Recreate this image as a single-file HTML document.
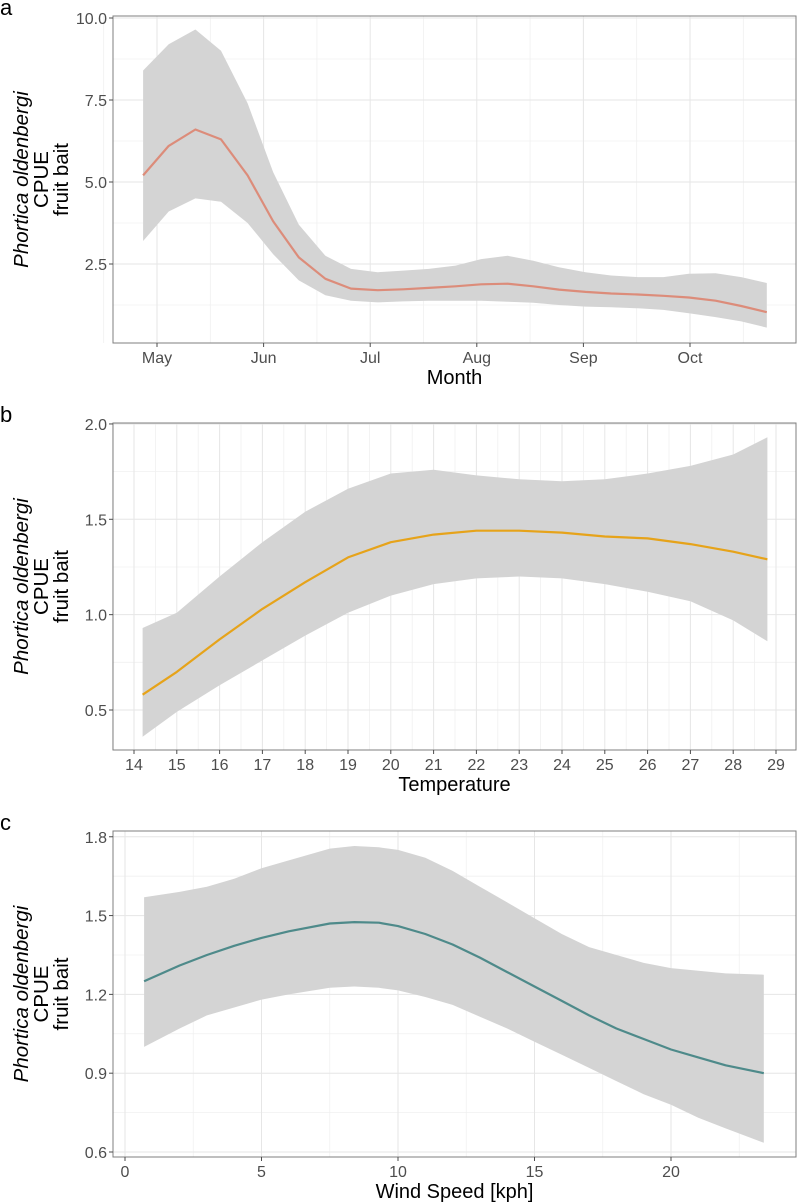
<!DOCTYPE html>
<html><head><meta charset="utf-8"><style>
html,body{margin:0;padding:0;background:#fff;}
svg{display:block;font-family:"Liberation Sans",Arial,sans-serif;}
</style></head><body>
<svg id="chart" width="797" height="1202" viewBox="0 0 797 1202" xmlns="http://www.w3.org/2000/svg"></svg>
<script>
// ---- Panel a: month (0 = May 1, units of months) ----
const aX = [-0.13,0.11,0.36,0.60,0.85,1.09,1.33,1.58,1.82,2.07,2.31,2.55,2.80,3.04,3.29,3.53,3.77,4.02,4.26,4.51,4.75,4.99,5.24,5.48,5.72];
const aFit = [5.2,6.1,6.6,6.3,5.2,3.8,2.7,2.05,1.75,1.7,1.73,1.77,1.82,1.88,1.9,1.82,1.72,1.65,1.6,1.57,1.53,1.48,1.38,1.22,1.03];
const aUpper = [8.4,9.2,9.65,9.0,7.4,5.3,3.7,2.75,2.35,2.25,2.3,2.35,2.45,2.65,2.75,2.6,2.4,2.25,2.15,2.1,2.1,2.2,2.22,2.1,1.92];
const aLower = [3.2,4.1,4.5,4.4,3.75,2.8,2.0,1.55,1.38,1.33,1.36,1.38,1.38,1.38,1.35,1.32,1.25,1.2,1.18,1.15,1.1,1.0,0.88,0.75,0.56];
const aXTicks = ["May","Jun","Jul","Aug","Sep","Oct"];
const aYTicks = [2.5,5.0,7.5,10.0];

// ---- Panel b: temperature ----
const bX = [14.2,15,16,17,18,19,20,21,22,23,24,25,26,27,28,28.8];
const bFit = [0.58,0.70,0.87,1.03,1.17,1.30,1.38,1.42,1.44,1.44,1.43,1.41,1.40,1.37,1.33,1.29];
const bUpper = [0.93,1.01,1.20,1.38,1.54,1.66,1.74,1.76,1.73,1.71,1.70,1.71,1.74,1.78,1.84,1.93];
const bLower = [0.36,0.49,0.63,0.76,0.89,1.01,1.10,1.16,1.19,1.20,1.19,1.16,1.12,1.07,0.97,0.86];
const bXTicks = [14,15,16,17,18,19,20,21,22,23,24,25,26,27,28,29];
const bYTicks = [0.5,1.0,1.5,2.0];

// ---- Panel c: wind speed ----
const cX = [0.7,2,3,4,5,6,7.5,8.4,9.3,10,11,12,13,14,15,16,17,18,19,20,21,22,23.4];
const cFit = [1.25,1.31,1.35,1.385,1.415,1.44,1.47,1.475,1.473,1.46,1.43,1.39,1.34,1.285,1.23,1.175,1.12,1.07,1.03,0.99,0.96,0.93,0.90];
const cUpper = [1.57,1.59,1.61,1.64,1.68,1.71,1.755,1.765,1.76,1.75,1.72,1.67,1.61,1.55,1.49,1.43,1.38,1.35,1.32,1.30,1.29,1.28,1.275];
const cLower = [1.0,1.07,1.12,1.15,1.18,1.20,1.225,1.23,1.225,1.215,1.19,1.16,1.115,1.07,1.02,0.97,0.92,0.87,0.82,0.78,0.73,0.69,0.635];
const cXTicks = [0,5,10,15,20];
const cYTicks = [0.6,0.9,1.2,1.5,1.8];

const NS = "http://www.w3.org/2000/svg";
const svg = document.getElementById("chart");
function mk(tag, attrs, parent){
  const e = document.createElementNS(NS, tag);
  for (const k in attrs) e.setAttribute(k, attrs[k]);
  (parent||svg).appendChild(e);
  return e;
}

function panel(o){
  const g = mk("g", {});
  
  
  const sx = v => o.px0 + (v - o.x0) * o.pxPerX;
  const sy = v => o.py0 - (v - o.y0) * o.pxPerY;
  o.yMinor.forEach(v=>{ const l=mk("line",{x1:o.L,x2:o.R,y1:sy(v),y2:sy(v),stroke:"#f0f0f0","stroke-width":0.8},g);
      });
  o.xMinor.forEach(v=>{ const l=mk("line",{x1:sx(v),x2:sx(v),y1:o.T,y2:o.B,stroke:"#f0f0f0","stroke-width":0.8},g);
      });
  o.yTicks.forEach(v=>{ const l=mk("line",{x1:o.L,x2:o.R,y1:sy(v),y2:sy(v),stroke:"#e6e6e6","stroke-width":1},g);
      });
  o.xTickVals.forEach(v=>{ const l=mk("line",{x1:sx(v),x2:sx(v),y1:o.T,y2:o.B,stroke:"#e6e6e6","stroke-width":1},g);
      });
  let d = "";
  o.xs.forEach((x,i)=>{ d += (i?"L":"M")+sx(x).toFixed(1)+","+sy(o.up[i]).toFixed(1); });
  for (let i=o.xs.length-1;i>=0;i--) d += "L"+sx(o.xs[i]).toFixed(1)+","+sy(o.lo[i]).toFixed(1);
  const rb = mk("path",{d:d+"Z",fill:"#d4d4d4",stroke:"none"},g);
   
  const pts = o.xs.map((x,i)=>sx(x).toFixed(1)+","+sy(o.fit[i]).toFixed(1)).join(" ");
  const ln = mk("polyline",{points:pts,fill:"none",stroke:o.color,"stroke-width":2.2,"stroke-linejoin":"round"},g);
   
  const br = mk("rect",{x:o.L,y:o.T,width:o.R-o.L,height:o.B-o.T,fill:"none",stroke:"#7f7f7f","stroke-width":1},g);
   
  o.yTicks.forEach(v=>{
    const t = mk("line",{x1:o.L-4,x2:o.L,y1:sy(v),y2:sy(v),stroke:"#4d4d4d","stroke-width":1},g);
     
    const tx = mk("text",{x:o.L-6,y:sy(v)+6,"text-anchor":"end","font-size":16,fill:"#4d4d4d"},g);
    tx.textContent = v.toFixed(o.yDec);
     
  });
  o.xTickVals.forEach((v,i)=>{
    const t = mk("line",{x1:sx(v),x2:sx(v),y1:o.B,y2:o.B+4,stroke:"#4d4d4d","stroke-width":1},g);
     
    const tx = mk("text",{x:sx(v),y:o.B+20,"text-anchor":"middle","font-size":16,fill:"#4d4d4d"},g);
    tx.textContent = o.xLabels[i];
     
  });
  const xt = mk("text",{x:(o.L+o.R)/2,y:o.B+41,"text-anchor":"middle","font-size":20,fill:"#000"},g);
  xt.textContent = o.xTitle;
   
  const cy = (o.T+o.B)/2;
  const yt = mk("g",{transform:"translate(0,"+cy+") rotate(-90)"},g);
   
  const lines = [["Phortica oldenbergi",28,"italic"],["CPUE",48,"normal"],["fruit bait",68,"normal"]];
  lines.forEach(l=>{
    const t = mk("text",{x:0,y:l[1],"text-anchor":"middle","font-size":20.5,"font-style":l[2],fill:"#000"},yt);
    t.textContent = l[0];
  });
  const lt = mk("text",{x:0,y:o.T-1,"font-size":22,fill:"#000"},g);
  lt.textContent = o.letter;
   
}

panel({name:"panel-a-month", letter:"a", L:113,R:796,T:16,B:343,
  x0:0, px0:157, pxPerX:106.6, y0:2.5, py0:264, pxPerY:32.8,
  xs:aX, fit:aFit, up:aUpper, lo:aLower, color:"#dc8c7a",
  yTicks:aYTicks, yDec:1, yMinor:[1.25,3.75,6.25,8.75],
  xTickVals:aXTicks.map((_,i)=>i), xLabels:aXTicks, xMinor:[-0.5,0.5,1.5,2.5,3.5,4.5,5.5],
  xTitle:"Month"});
panel({name:"panel-b-temperature", letter:"b", L:113,R:796,T:423,B:750,
  x0:14, px0:134, pxPerX:42.8, y0:0.5, py0:710, pxPerY:190.7,
  xs:bX, fit:bFit, up:bUpper, lo:bLower, color:"#e6a31a",
  yTicks:bYTicks, yDec:1, yMinor:[0.75,1.25,1.75],
  xTickVals:bXTicks, xLabels:bXTicks.map(String), xMinor:bXTicks.map(v=>v+0.5).filter(v=>v<29.4).concat([13.5]),
  xTitle:"Temperature"});
panel({name:"panel-c-wind-speed", letter:"c", L:113,R:796,T:831,B:1157,
  x0:0, px0:125, pxPerX:27.3, y0:0.6, py0:1152, pxPerY:262.7,
  xs:cX, fit:cFit, up:cUpper, lo:cLower, color:"#4e8a8a",
  yTicks:cYTicks, yDec:1, yMinor:[0.75,1.05,1.35,1.65],
  xTickVals:cXTicks, xLabels:cXTicks.map(String), xMinor:[2.5,7.5,12.5,17.5,22.5],
  xTitle:"Wind Speed [kph]"});
</script>
</body></html>
